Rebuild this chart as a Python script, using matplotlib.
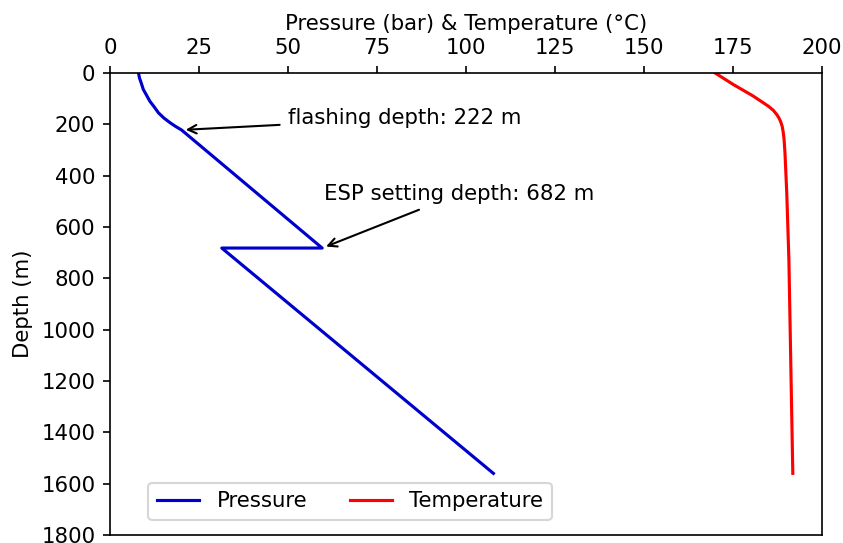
import matplotlib
matplotlib.use("Agg")
import matplotlib.pyplot as plt

# Pressure profile along the well (bar vs depth in m)
pressure_depth = [0, 20, 40, 64, 85, 110, 130, 155, 175, 194, 208, 222, 682, 682, 1560]
pressure_bar = [8.0, 8.3, 8.8, 9.35, 10.2, 11.2, 12.3, 13.6, 15.1, 16.9, 18.4, 20.1, 59.6, 31.4, 107.7]

# Temperature profile (deg C vs depth in m)
temp_depth = [0, 45, 90, 129, 145, 162, 175, 190, 207, 230, 259, 311, 467, 727, 1560]
temp_c = [170.0, 175.1, 180.7, 184.9, 186.3, 187.3, 187.9, 188.4, 188.8, 189.1, 189.35, 189.6, 190.1, 190.7, 191.8]

flash_depth = 222
flash_pressure = 20.1
esp_depth = 682
esp_pressure = 59.6

x_ticks = [0, 25, 50, 75, 100, 125, 150, 175, 200]
y_ticks = [0, 200, 400, 600, 800, 1000, 1200, 1400, 1600, 1800]

DPI = 150
plt.rcParams["font.size"] = 10.2

fig = plt.figure(figsize=(843 / DPI, 543 / DPI), dpi=DPI)
ax = fig.add_axes([110 / 843, 8 / 543, 712 / 843, 462 / 543])

ax.plot(pressure_bar, pressure_depth, color="#0000cc", label="Pressure")
ax.plot(temp_c, temp_depth, color="red", label="Temperature")

ax.set_xlim(0, 200)
ax.set_ylim(1800, 0)
ax.set_xticks(x_ticks)
ax.set_yticks(y_ticks)
ax.xaxis.tick_top()
ax.xaxis.set_label_position("top")
ax.set_xlabel("Pressure (bar) & Temperature (°C)")
ax.set_ylabel("Depth (m)")

ax.annotate(f"flashing depth: {flash_depth} m",
            xy=(flash_pressure, flash_depth), xytext=(50, 200),
            arrowprops=dict(arrowstyle="->", color="black"))
ax.annotate(f"ESP setting depth: {esp_depth} m",
            xy=(esp_pressure, esp_depth), xytext=(60, 495),
            arrowprops=dict(arrowstyle="->", color="black"))

ax.legend(loc="lower left", ncol=2, bbox_to_anchor=(0.054, 0.0325),
          borderaxespad=0)

fig.savefig("out.png", dpi=DPI)
